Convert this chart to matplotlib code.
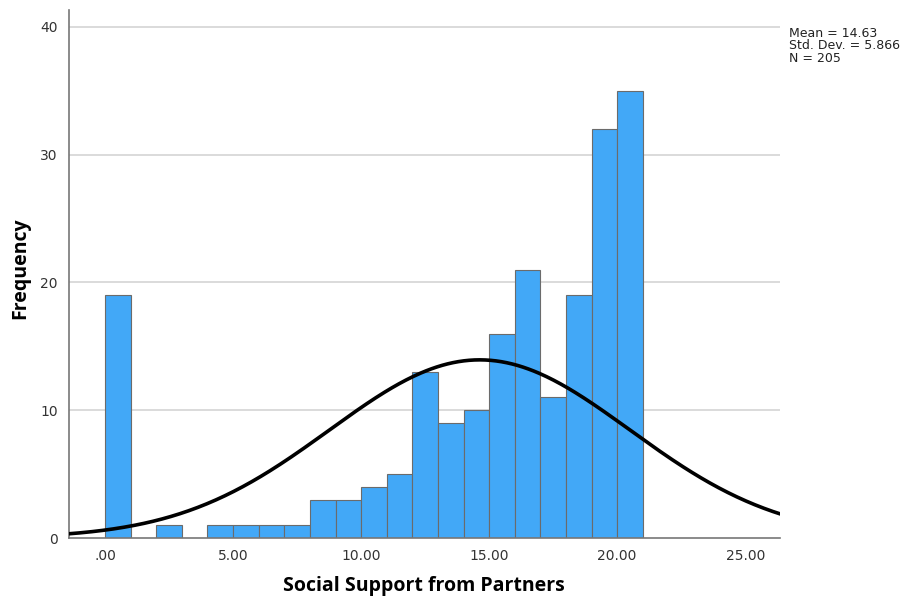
import numpy as np
import matplotlib.pyplot as plt

# histogram of partner support scores, bins of width 1
bin_edges = np.arange(0, 22, 1)          # 0, 1, ..., 21
counts = [19, 0, 1, 0, 1, 1, 1, 1, 3, 3, 4, 5, 13, 9, 10, 16, 21, 11, 19, 32, 35]
mean_val = 14.63
sd_val = 5.866
n_val = 205
xticks = [0, 5, 10, 15, 20, 25]
xtick_labels = ['.00', '5.00', '10.00', '15.00', '20.00', '25.00']
yticks = [0, 10, 20, 30, 40]

fig = plt.figure(figsize=(9.05, 5.97), dpi=100)
ax = fig.add_axes([0.0762, 0.0988, 0.786, 0.884])

# gridlines first so the bars sit on top
for y in yticks[1:]:
    ax.axhline(y, color='#d4d4d4', lw=1.2, zorder=0)

heights = np.array(counts)
keep = heights > 0
ax.bar(bin_edges[:-1][keep], heights[keep], width=1, align='edge',
       color='#42a8f7', edgecolor='#6b6b6b', linewidth=0.8, zorder=2)

# fitted normal curve scaled to counts
xs = np.linspace(-1.5, 26.5, 400)
pdf = np.exp(-0.5 * ((xs - mean_val) / sd_val) ** 2) / (sd_val * np.sqrt(2 * np.pi))
ax.plot(xs, n_val * pdf, color='black', lw=2.6, zorder=3)

ax.set_xlim(-1.41, 26.37)
ax.set_ylim(0, 41.3)
ax.set_xticks(xticks)
ax.set_xticklabels(xtick_labels)
ax.set_yticks(yticks)
ax.tick_params(length=0, labelsize=10, colors='#333333', pad=8)

for side in ['top', 'right']:
    ax.spines[side].set_visible(False)
for side in ['left', 'bottom']:
    ax.spines[side].set_color('#777777')
    ax.spines[side].set_linewidth(1.2)

ax.set_xlabel('Social Support from Partners', fontsize=14, fontweight='bold',
              family='Open Sans', va='center')
ax.set_ylabel('Frequency', fontsize=14, fontweight='bold',
              family='Open Sans', va='center')
ax.xaxis.set_label_coords(0.499, -0.091)
ax.yaxis.set_label_coords(-0.069, 0.511)

fig.text(0.872, 0.955, f'Mean = {mean_val:.2f}\nStd. Dev. = {sd_val:.3f}\nN = {n_val}',
         fontsize=9, va='top', ha='left', linespacing=0.95, color='#222222')

fig.savefig('out.png', dpi=100)
